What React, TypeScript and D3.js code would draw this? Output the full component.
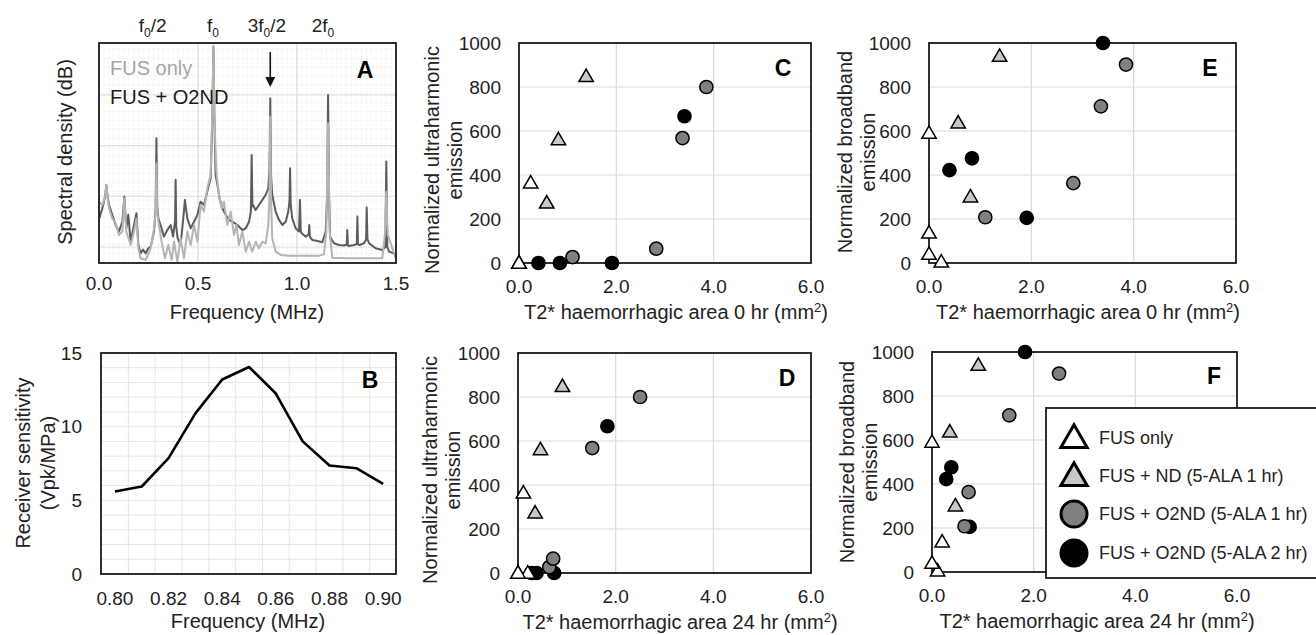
import * as d3 from "d3";

const FONT = "'Liberation Sans', Arial, sans-serif";

// ---- panel A: spectra, [frequency (MHz), level (dB)] ----
const o2ndSpectrum: [number, number][] = [
  [0.0, -69.0], [0.017, -64.7], [0.031, -60.0], [0.037, -55.5], [0.044, -60.5], [0.051, -63.4],
  [0.067, -67.3], [0.084, -71.3], [0.101, -73.9], [0.118, -70.0], [0.128, -60.1], [0.138, -72.6],
  [0.148, -67.3], [0.16, -77.9], [0.177, -71.3], [0.189, -66.7], [0.199, -79.2], [0.21, -82.5],
  [0.222, -81.0], [0.236, -82.5], [0.248, -80.6], [0.261, -79.8], [0.278, -73.9], [0.286, -65.0],
  [0.29, -37.1], [0.294, -64.0], [0.3, -68.7], [0.311, -71.3], [0.328, -75.9], [0.345, -73.3],
  [0.362, -71.3], [0.374, -75.9], [0.384, -70.0], [0.387, -53.5], [0.39, -72.0], [0.397, -76.5],
  [0.412, -79.2], [0.424, -70.0], [0.434, -61.4], [0.446, -68.7], [0.463, -72.6], [0.48, -70.0],
  [0.497, -67.3], [0.513, -62.1], [0.53, -63.4], [0.547, -58.1], [0.564, -52.9], [0.572, -30.0],
  [0.578, -0.9], [0.583, -30.0], [0.589, -51.5], [0.598, -55.5], [0.609, -60.8], [0.623, -64.7],
  [0.64, -67.3], [0.657, -69.3], [0.673, -70.0], [0.699, -71.3], [0.724, -73.3], [0.741, -72.6],
  [0.758, -70.0], [0.767, -66.0], [0.771, -43.7], [0.775, -64.0], [0.778, -63.4], [0.791, -65.4],
  [0.808, -63.4], [0.825, -61.4], [0.842, -59.4], [0.855, -56.8], [0.861, -50.0], [0.865, -21.3],
  [0.869, -52.0], [0.875, -59.4], [0.892, -66.0], [0.909, -69.3], [0.926, -71.3], [0.943, -70.0],
  [0.956, -66.0], [0.962, -62.0], [0.965, -48.9], [0.968, -63.0], [0.976, -68.7], [0.993, -72.6],
  [1.01, -73.9], [1.015, -61.4], [1.019, -74.0], [1.024, -74.6], [1.044, -75.9], [1.059, -75.0],
  [1.062, -71.3], [1.065, -76.0], [1.077, -77.2], [1.103, -77.6], [1.128, -78.1], [1.145, -73.9],
  [1.152, -60.0], [1.157, -20.0], [1.162, -60.0], [1.167, -75.9], [1.187, -78.5], [1.212, -79.2],
  [1.237, -79.4], [1.251, -79.0], [1.254, -73.3], [1.257, -79.4], [1.263, -79.6], [1.288, -79.2],
  [1.302, -78.8], [1.305, -68.0], [1.308, -79.0], [1.316, -79.2], [1.338, -78.5], [1.349, -77.0],
  [1.352, -64.4], [1.356, -77.0], [1.364, -78.5], [1.397, -80.5], [1.431, -81.2], [1.446, -80.0],
  [1.451, -46.3], [1.456, -80.0], [1.465, -81.8], [1.49, -82.5], [1.5, -83.8],
];

const fusOnlySpectrum: [number, number][] = [
  [0.0, -62.1], [0.017, -63.4], [0.031, -60.0], [0.037, -55.5], [0.044, -61.0], [0.051, -64.7],
  [0.067, -68.7], [0.084, -70.6], [0.101, -75.2], [0.118, -73.9], [0.128, -60.8], [0.138, -73.9],
  [0.16, -79.2], [0.177, -73.9], [0.189, -68.7], [0.199, -80.5], [0.21, -84.4], [0.236, -85.1],
  [0.261, -80.5], [0.278, -72.6], [0.286, -66.0], [0.29, -47.0], [0.294, -66.0], [0.3, -70.0],
  [0.316, -77.9], [0.333, -84.4], [0.35, -79.2], [0.367, -85.1], [0.379, -77.9], [0.396, -85.8],
  [0.412, -76.5], [0.429, -84.4], [0.446, -73.9], [0.463, -79.2], [0.48, -71.3], [0.497, -77.9],
  [0.513, -63.4], [0.53, -66.0], [0.547, -56.8], [0.564, -51.5], [0.572, -28.0], [0.578, -0.9],
  [0.583, -30.0], [0.593, -50.2], [0.606, -59.4], [0.62, -64.7], [0.631, -62.1], [0.648, -71.3],
  [0.665, -66.0], [0.682, -75.2], [0.694, -71.3], [0.707, -79.2], [0.724, -73.9], [0.741, -81.8],
  [0.758, -77.9], [0.774, -81.8], [0.791, -77.9], [0.808, -80.5], [0.825, -77.9], [0.842, -78.5],
  [0.855, -71.3], [0.861, -60.0], [0.865, -28.6], [0.869, -62.0], [0.875, -76.5], [0.892, -81.8],
  [0.918, -83.1], [0.96, -83.4], [1.01, -83.4], [1.061, -83.4], [1.111, -83.4], [1.136, -82.9],
  [1.148, -73.9], [1.157, -31.2], [1.165, -73.9], [1.178, -84.2], [1.263, -84.4], [1.347, -84.4],
  [1.431, -84.4], [1.444, -75.0], [1.451, -58.2], [1.458, -75.0], [1.5, -84.7],
];

const spectrumXTicks = [0, 0.5, 1.0, 1.5];
const spectrumDbGrid = [-20, -40, -60, -80];
const harmonicLabels = [
  { pre: "", sub: "0", tail: "/2", at: 0.271 },
  { pre: "", sub: "0", tail: "", at: 0.576 },
  { pre: "3", sub: "0", tail: "/2", at: 0.848 },
  { pre: "2", sub: "0", tail: "", at: 1.131 },
];
const arrowFreq = 0.865;

// ---- panel B: receiver sensitivity ----
const sensFreq = [0.8, 0.81, 0.82, 0.83, 0.84, 0.85, 0.86, 0.87, 0.88, 0.89, 0.9];
const sensValues = [5.6, 5.94, 7.86, 10.9, 13.2, 14.05, 12.25, 9.0, 7.36, 7.18, 6.12];
const sensXTicks = [0.8, 0.82, 0.84, 0.86, 0.88, 0.9];
const sensYTicks = [0, 5, 10, 15];

// ---- panels C-F: per-subject values ----
const groupNames = [
  "FUS only",
  "FUS + ND (5-ALA 1 hr)",
  "FUS + O2ND (5-ALA 1 hr)",
  "FUS + O2ND (5-ALA 2 hr)",
];
const fusOnlyArea0 = [0.24, 0, 0, 0];
const fusOnlyArea24 = [0.11, 0, 0.2, 0];
const fusOnlyUH = [364, 0, 0, 0];
const fusOnlyBB = [5, 590, 137, 40];

const ndArea0 = [1.38, 0.81, 0.57];
const ndArea24 = [0.91, 0.46, 0.35];
const ndUH = [848, 561, 273];
const ndBB = [940, 301, 637];

const o2nd1Area0 = [1.1, 2.82, 3.36, 3.85];
const o2nd1Area24 = [0.64, 0.72, 1.52, 2.5];
const o2nd1UH = [27, 65, 568, 800];
const o2nd1BB = [208, 363, 712, 902];

const o2nd2Area0 = [3.4, 0.4, 0.84, 1.91];
const o2nd2Area24 = [1.83, 0.28, 0.38, 0.74];
const o2nd2UH = [667, 0, 0, 0];
const o2nd2BB = [1000, 422, 476, 205];

const scatterXTicks = [0, 2, 4, 6];
const scatterYTicks = [0, 200, 400, 600, 800, 1000];

const groupStyle = [
  { shape: "tri", fill: "#ffffff" },
  { shape: "tri", fill: "#c8c8c8" },
  { shape: "circle", fill: "#808080" },
  { shape: "circle", fill: "#000000" },
];

const groups = [
  { a0: fusOnlyArea0, a24: fusOnlyArea24, uh: fusOnlyUH, bb: fusOnlyBB },
  { a0: ndArea0, a24: ndArea24, uh: ndUH, bb: ndBB },
  { a0: o2nd1Area0, a24: o2nd1Area24, uh: o2nd1UH, bb: o2nd1BB },
  { a0: o2nd2Area0, a24: o2nd2Area24, uh: o2nd2UH, bb: o2nd2BB },
];

type Box = { l: number; r: number; t: number; b: number };

const FS = 19; // tick labels
const TS = 20; // axis titles

function Marker({ x, y, g, big }: { x: number; y: number; g: number; big?: boolean }) {
  const st = groupStyle[g];
  const sw = big ? 3 : 1.5;
  if (st.shape === "tri") {
    const p = d3.symbol().type(d3.symbolTriangle).size(big ? 300 : 90)();
    return (
      <path d={p || ""} transform={`translate(${x},${y + (big ? 2 : 1)})`} fill={st.fill}
        stroke="#000" strokeWidth={sw} strokeLinejoin="miter" />
    );
  }
  return <circle cx={x} cy={y} r={big ? 13 : 6.6} fill={st.fill} stroke="#000" strokeWidth={sw} />;
}

function SpectrumPanel() {
  const box: Box = { l: 99, r: 396, t: 43, b: 263 };
  const x = d3.scaleLinear().domain([0, 1.5]).range([box.l, box.r]);
  const y = d3.scaleLinear().domain([-86.3, 0.5]).range([box.b, box.t]);
  const line = d3.line<[number, number]>().x((d) => x(d[0])).y((d) => y(d[1]));
  const minorY = d3.range(-86, 0, 3.5);
  const minorX = d3.range(0.025, 1.5, 0.025);
  return (
    <g>
      <defs>
        <clipPath id="clipA">
          <rect x={box.l} y={box.t} width={box.r - box.l} height={box.b - box.t} />
        </clipPath>
      </defs>
      {minorY.map((v, i) => (
        <line key={"my" + i} x1={box.l} x2={box.r} y1={y(v)} y2={y(v)} stroke="#e4e4e4"
          strokeWidth={0.8} strokeDasharray="1,1.5" />
      ))}
      {minorX.map((v, i) => (
        <line key={"mx" + i} x1={x(v)} x2={x(v)} y1={box.t} y2={box.b} stroke="#e8e8e8"
          strokeWidth={0.8} strokeDasharray="1,1.5" />
      ))}
      {spectrumDbGrid.map((v) => (
        <line key={"gy" + v} x1={box.l} x2={box.r} y1={y(v)} y2={y(v)} stroke="#dcdcdc" strokeWidth={1} />
      ))}
      {[0.5, 1.0].map((v) => (
        <line key={"gx" + v} x1={x(v)} x2={x(v)} y1={box.t} y2={box.b} stroke="#d4d4d4" strokeWidth={1} />
      ))}
      <g clipPath="url(#clipA)">
        <path d={line(o2ndSpectrum) || ""} fill="none" stroke="#5c5c5c" strokeWidth={2} strokeLinejoin="round" />
        <path d={line(fusOnlySpectrum) || ""} fill="none" stroke="#b4b4b4" strokeWidth={2} strokeLinejoin="round" />
      </g>
      <rect x={box.l} y={box.t} width={box.r - box.l} height={box.b - box.t} fill="none" stroke="#1a1a1a" strokeWidth={1.8} />
      {spectrumXTicks.map((v) => (
        <text key={v} x={x(v)} y={box.b + 27} textAnchor="middle" fontSize={FS} fill="#222">
          {v.toFixed(1)}
        </text>
      ))}
      {harmonicLabels.map((h, i) => (
        <text key={i} x={x(h.at)} y={32} textAnchor="middle" fontSize={FS} fill="#222">
          {h.pre}f
          <tspan fontSize={12} dy={5}>{h.sub}</tspan>
          <tspan dy={-5}>{h.tail}</tspan>
        </text>
      ))}
      <line x1={x(arrowFreq)} x2={x(arrowFreq)} y1={52} y2={80} stroke="#111" strokeWidth={1.6} />
      <path d={`M${x(arrowFreq) - 5},77 L${x(arrowFreq) + 5},77 L${x(arrowFreq)},87 Z`} fill="#111" />
      <text x={110} y={75} fontSize={TS} fill="#a6a6a6">FUS only</text>
      <text x={110} y={104} fontSize={TS} fill="#1a1a1a">FUS + O2ND</text>
      <text x={365} y={70} textAnchor="middle" dominantBaseline="central" fontSize={23} fontWeight="bold">A</text>
      <text x={247} y={319} textAnchor="middle" fontSize={TS} fill="#222">Frequency (MHz)</text>
      <text transform="translate(65,152) rotate(-90)" textAnchor="middle" dominantBaseline="central" fontSize={TS} fill="#222">
        Spectral density (dB)
      </text>
    </g>
  );
}

function SensitivityPanel() {
  const box: Box = { l: 101, r: 396, t: 353, b: 574 };
  const x = d3.scaleLinear().domain([0.7948, 0.9048]).range([box.l, box.r]);
  const y = d3.scaleLinear().domain([0, 15]).range([box.b, box.t]);
  const line = d3.line<number>().x((_, i) => x(sensFreq[i])).y((d) => y(d));
  const vGrid = d3.range(0, 10).map((i) => 0.805 + i * 0.01);
  const hGrid = d3.range(1, 15);
  return (
    <g>
      {hGrid.map((v) => (
        <line key={"h" + v} x1={box.l} x2={box.r} y1={y(v)} y2={y(v)} stroke="#e6e6e6" strokeWidth={1} />
      ))}
      {vGrid.map((v, i) => (
        <line key={"v" + i} x1={x(v)} x2={x(v)} y1={box.t} y2={box.b} stroke="#e6e6e6" strokeWidth={1} />
      ))}
      <path d={line(sensValues) || ""} fill="none" stroke="#000" strokeWidth={2.6} strokeLinejoin="round" />
      <rect x={box.l} y={box.t} width={box.r - box.l} height={box.b - box.t} fill="none" stroke="#1a1a1a" strokeWidth={1.8} />
      {sensXTicks.map((v) => (
        <text key={v} x={x(v)} y={box.b + 31} textAnchor="middle" fontSize={FS} fill="#222">{v.toFixed(2)}</text>
      ))}
      {sensYTicks.map((v) => (
        <text key={v} x={box.l - 19} y={y(v)} textAnchor="end" dominantBaseline="central" fontSize={FS} fill="#222">{v}</text>
      ))}
      <text x={370} y={380} textAnchor="middle" dominantBaseline="central" fontSize={23} fontWeight="bold">B</text>
      <text x={248} y={628} textAnchor="middle" fontSize={TS} fill="#222">Frequency (MHz)</text>
      <text transform="translate(23,463) rotate(-90)" textAnchor="middle" dominantBaseline="central" fontSize={TS} fill="#222">
        Receiver sensitivity
      </text>
      <text transform="translate(48,463) rotate(-90)" textAnchor="middle" dominantBaseline="central" fontSize={TS} fill="#222">
        (Vpk/MPa)
      </text>
    </g>
  );
}

type ScatterProps = {
  box: Box;
  xKey: "a0" | "a24";
  yKey: "uh" | "bb";
  letter: string;
  letterPos: [number, number];
  yTitle: string[];
  yTitlePos: [number, number, number];
  hours: string;
  xTitleX: number;
};

function ScatterPanel(p: ScatterProps) {
  const { box } = p;
  const x = d3.scaleLinear().domain([0, 6]).range([box.l, box.r]);
  const y = d3.scaleLinear().domain([0, 1000]).range([box.b, box.t]);
  const order = [3, 2, 1, 0];
  return (
    <g>
      {[2, 4].map((v) => (
        <line key={"gx" + v} x1={x(v)} x2={x(v)} y1={box.t} y2={box.b} stroke="#d9d9d9" strokeWidth={1.2} />
      ))}
      {[200, 400, 600, 800].map((v) => (
        <line key={"gy" + v} x1={box.l} x2={box.r} y1={y(v)} y2={y(v)} stroke="#d9d9d9" strokeWidth={1.2} />
      ))}
      <rect x={box.l} y={box.t} width={box.r - box.l} height={box.b - box.t} fill="none" stroke="#1a1a1a" strokeWidth={1.8} />
      {order.map((g) =>
        groups[g][p.xKey].map((xv, i) => (
          <Marker key={g + "-" + i} x={x(xv)} y={y(groups[g][p.yKey][i])} g={g} />
        ))
      )}
      {scatterXTicks.map((v) => (
        <text key={v} x={x(v)} y={box.b + 30} textAnchor="middle" fontSize={FS} fill="#222">{v.toFixed(1)}</text>
      ))}
      {scatterYTicks.map((v) => (
        <text key={v} x={box.l - 18} y={y(v)} textAnchor="end" dominantBaseline="central" fontSize={FS} fill="#222">{v}</text>
      ))}
      <text x={p.letterPos[0]} y={p.letterPos[1]} textAnchor="middle" dominantBaseline="central" fontSize={23} fontWeight="bold">
        {p.letter}
      </text>
      <text x={p.xTitleX} y={box.b + 56} textAnchor="middle" fontSize={TS} fill="#222">
        T2* haemorrhagic area {p.hours} hr (mm
        <tspan fontSize={13} dy={-7}>2</tspan>
        <tspan dy={7}>)</tspan>
      </text>
      {p.yTitle.map((t, i) => (
        <text key={i} transform={`translate(${p.yTitlePos[i]},${p.yTitlePos[2]}) rotate(-90)`} textAnchor="middle"
          dominantBaseline="central" fontSize={TS} fill="#222">
          {t}
        </text>
      ))}
    </g>
  );
}

function Legend() {
  const rows = [438, 476, 514, 553];
  return (
    <g>
      <rect x={1046} y={408} width={290} height={170} fill="#fff" stroke="#1a1a1a" strokeWidth={1.8} />
      {groupNames.map((name, g) => (
        <g key={name}>
          <Marker x={1074} y={rows[g]} g={g} big />
          <text x={1099} y={rows[g]} dominantBaseline="central" fontSize={18} fill="#222">{name}</text>
        </g>
      ))}
    </g>
  );
}

export default function App() {
  return (
    <svg width={1316} height={635} style={{ position: "absolute", left: 0, top: 0, background: "#fff" }}
      fontFamily={FONT}>
      <rect width={1316} height={635} fill="#fff" />
      <SpectrumPanel />
      <SensitivityPanel />
      <ScatterPanel box={{ l: 519, r: 811, t: 43, b: 263 }} xKey="a0" yKey="uh" letter="C" letterPos={[783, 68]}
        yTitle={["Normalized ultraharmonic", "emission"]} yTitlePos={[432, 455, 160]} hours="0" xTitleX={676} />
      <ScatterPanel box={{ l: 518, r: 811, t: 353, b: 573 }} xKey="a24" yKey="uh" letter="D" letterPos={[787, 378]}
        yTitle={["Normalized ultraharmonic", "emission"]} yTitlePos={[430, 453, 470]} hours="24" xTitleX={680} />
      <ScatterPanel box={{ l: 929, r: 1236, t: 43, b: 263 }} xKey="a0" yKey="bb" letter="E" letterPos={[1210, 68]}
        yTitle={["Normalized broadband", "emission"]} yTitlePos={[845, 868, 152]} hours="0" xTitleX={1088} />
      <ScatterPanel box={{ l: 932, r: 1237, t: 352, b: 572 }} xKey="a24" yKey="bb" letter="F" letterPos={[1214, 376]}
        yTitle={["Normalized broadband", "emission"]} yTitlePos={[847, 870, 462]} hours="24" xTitleX={1097} />
      <Legend />
    </svg>
  );
}
